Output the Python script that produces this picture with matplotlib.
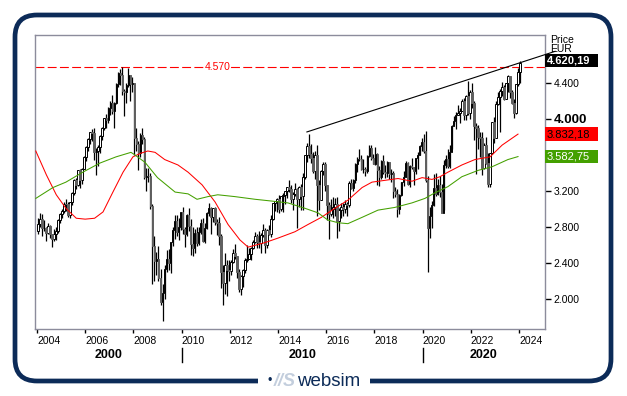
import numpy as np
import matplotlib
matplotlib.use("Agg")
import matplotlib.pyplot as plt
from matplotlib.patches import FancyBboxPatch, Rectangle

plt.rcParams['font.family'] = ['Liberation Sans', 'DejaVu Sans']

# monthly candles, Jan 2004 .. Jan 2024 (index level in thousands)
first_open = 2.760
closes = [
    2.839, 2.893, 2.787, 2.788, 2.737, 2.811, 2.720, 2.671, 2.726, 2.757, 2.876, 2.951,  # 2004
    2.984, 3.058, 3.056, 2.931, 3.076, 3.182, 3.327, 3.264, 3.429, 3.320, 3.447, 3.579,  # 2005
    3.692, 3.775, 3.853, 3.839, 3.637, 3.649, 3.692, 3.809, 3.899, 4.005, 3.987, 4.120,  # 2006
    4.179, 4.087, 4.181, 4.392, 4.512, 4.489, 4.315, 4.294, 4.381, 4.490, 4.388, 4.400,  # 2007
    3.792, 3.725, 3.628, 3.826, 3.777, 3.353, 3.367, 3.365, 3.038, 2.591, 2.430, 2.451,  # 2008
    2.237, 1.977, 2.071, 2.336, 2.451, 2.401, 2.638, 2.775, 2.873, 2.744, 2.800, 2.966,  # 2009
    2.776, 2.728, 2.931, 2.817, 2.610, 2.573, 2.742, 2.623, 2.748, 2.844, 2.651, 2.793,  # 2010
    2.954, 3.013, 2.911, 3.011, 2.862, 2.849, 2.705, 2.302, 2.180, 2.385, 2.330, 2.317,  # 2011
    2.416, 2.512, 2.477, 2.306, 2.118, 2.265, 2.325, 2.441, 2.454, 2.503, 2.575, 2.636,  # 2012
    2.703, 2.633, 2.625, 2.712, 2.770, 2.603, 2.768, 2.721, 2.893, 3.068, 3.086, 3.109,  # 2013
    2.998, 3.149, 3.162, 3.198, 3.245, 3.229, 3.116, 3.173, 3.226, 3.113, 3.251, 3.146,  # 2014
    3.352, 3.600, 3.697, 3.615, 3.570, 3.424, 3.601, 3.270, 3.101, 3.418, 3.506, 3.268,  # 2015
    3.045, 2.946, 3.005, 3.028, 3.063, 2.865, 2.991, 3.023, 3.003, 3.055, 3.052, 3.291,  # 2016
    3.231, 3.320, 3.501, 3.560, 3.555, 3.442, 3.450, 3.422, 3.595, 3.674, 3.570, 3.504,  # 2017
    3.609, 3.439, 3.362, 3.536, 3.407, 3.396, 3.525, 3.393, 3.399, 3.198, 3.173, 3.001,  # 2018
    3.159, 3.298, 3.352, 3.515, 3.280, 3.474, 3.467, 3.427, 3.569, 3.604, 3.704, 3.745,  # 2019
    3.641, 3.329, 2.787, 2.928, 3.050, 3.234, 3.174, 3.273, 3.194, 2.958, 3.493, 3.553,  # 2020
    3.481, 3.636, 3.919, 3.975, 4.039, 4.064, 4.089, 4.196, 4.048, 4.251, 4.064, 4.298,  # 2021
    4.175, 3.924, 3.903, 3.803, 3.789, 3.455, 3.708, 3.517, 3.279, 3.618, 3.965, 3.794,  # 2022
    4.163, 4.238, 4.315, 4.359, 4.218, 4.399, 4.471, 4.297, 4.175, 4.061, 4.382, 4.521,  # 2023
    4.62019,                                                                               # 2024
]
highs = [
    2.905, 2.960, 2.950, 2.880, 2.800, 2.850, 2.830, 2.730, 2.780, 2.800, 2.890, 2.955,
    3.000, 3.080, 3.115, 3.080, 3.080, 3.190, 3.330, 3.350, 3.430, 3.440, 3.460, 3.590,
    3.700, 3.790, 3.860, 3.890, 3.897, 3.680, 3.710, 3.820, 3.910, 4.010, 4.050, 4.130,
    4.200, 4.270, 4.190, 4.400, 4.520, 4.550, 4.572, 4.330, 4.400, 4.560, 4.490, 4.470,
    4.400, 3.900, 3.760, 3.840, 3.900, 3.800, 3.460, 3.460, 3.400, 3.060, 2.700, 2.530,
    2.590, 2.340, 2.170, 2.380, 2.550, 2.560, 2.640, 2.800, 2.940, 2.940, 2.900, 2.970,
    3.020, 2.800, 2.950, 3.010, 2.890, 2.800, 2.780, 2.800, 2.800, 2.890, 2.900, 2.850,
    2.970, 3.070, 3.030, 3.010, 3.020, 2.890, 2.910, 2.730, 2.380, 2.520, 2.440, 2.440,
    2.440, 2.560, 2.610, 2.480, 2.340, 2.270, 2.340, 2.460, 2.600, 2.570, 2.580, 2.660,
    2.750, 2.720, 2.760, 2.740, 2.840, 2.790, 2.780, 2.830, 2.940, 3.070, 3.090, 3.120,
    3.160, 3.150, 3.180, 3.200, 3.250, 3.320, 3.270, 3.190, 3.290, 3.240, 3.260, 3.280,
    3.400, 3.600, 3.730, 3.836, 3.720, 3.630, 3.650, 3.710, 3.320, 3.430, 3.520, 3.520,
    3.270, 3.080, 3.110, 3.130, 3.120, 3.130, 3.010, 3.070, 3.070, 3.100, 3.080, 3.310,
    3.330, 3.330, 3.510, 3.580, 3.667, 3.600, 3.560, 3.470, 3.600, 3.710, 3.710, 3.610,
    3.690, 3.620, 3.480, 3.550, 3.600, 3.490, 3.530, 3.520, 3.450, 3.420, 3.250, 3.220,
    3.170, 3.300, 3.420, 3.530, 3.520, 3.490, 3.570, 3.470, 3.570, 3.630, 3.710, 3.790,
    3.830, 3.870, 3.370, 3.020, 3.090, 3.390, 3.400, 3.340, 3.370, 3.280, 3.540, 3.600,
    3.670, 3.710, 3.930, 4.030, 4.080, 4.160, 4.120, 4.220, 4.230, 4.260, 4.415, 4.320,
    4.400, 4.200, 3.950, 3.930, 3.850, 3.850, 3.730, 3.800, 3.620, 3.620, 3.970, 4.020,
    4.200, 4.300, 4.330, 4.410, 4.380, 4.400, 4.490, 4.470, 4.320, 4.220, 4.390, 4.560,
    4.640,
]
lows = [
    2.730, 2.800, 2.700, 2.760, 2.650, 2.720, 2.680, 2.580, 2.650, 2.660, 2.740, 2.850,
    2.900, 2.960, 2.980, 2.910, 2.900, 3.050, 3.160, 3.220, 3.260, 3.230, 3.280, 3.440,
    3.530, 3.650, 3.720, 3.760, 3.550, 3.380, 3.480, 3.620, 3.770, 3.880, 3.900, 3.960,
    4.040, 4.050, 3.900, 4.170, 4.350, 4.380, 4.270, 4.030, 4.180, 4.350, 4.200, 4.300,
    3.600, 3.650, 3.430, 3.580, 3.720, 3.330, 3.200, 3.300, 3.000, 2.170, 2.210, 2.270,
    2.210, 1.940, 1.765, 2.010, 2.300, 2.330, 2.290, 2.590, 2.670, 2.700, 2.660, 2.770,
    2.730, 2.580, 2.700, 2.760, 2.490, 2.480, 2.510, 2.590, 2.600, 2.720, 2.640, 2.630,
    2.780, 2.920, 2.720, 2.860, 2.830, 2.710, 2.600, 2.130, 1.935, 2.060, 2.040, 2.200,
    2.270, 2.400, 2.450, 2.240, 2.080, 2.050, 2.140, 2.290, 2.410, 2.450, 2.440, 2.560,
    2.630, 2.570, 2.570, 2.510, 2.690, 2.510, 2.570, 2.710, 2.690, 2.880, 2.980, 2.970,
    2.960, 2.980, 2.970, 3.060, 3.120, 3.190, 3.070, 2.990, 3.150, 2.790, 3.030, 2.990,
    2.990, 3.330, 3.520, 3.570, 3.510, 3.400, 3.330, 2.920, 2.990, 3.100, 3.380, 3.200,
    2.880, 2.672, 2.930, 2.900, 2.920, 2.680, 2.760, 2.900, 2.930, 2.960, 2.920, 3.030,
    3.220, 3.200, 3.290, 3.410, 3.530, 3.430, 3.400, 3.370, 3.400, 3.580, 3.550, 3.500,
    3.490, 3.270, 3.260, 3.330, 3.390, 3.350, 3.360, 3.340, 3.300, 3.120, 3.140, 2.910,
    2.950, 3.150, 3.260, 3.360, 3.270, 3.250, 3.450, 3.270, 3.390, 3.450, 3.600, 3.650,
    3.620, 3.300, 2.303, 2.680, 2.790, 3.040, 3.150, 3.160, 3.130, 2.960, 2.990, 3.460,
    3.460, 3.460, 3.670, 3.940, 3.890, 4.040, 3.960, 4.090, 3.990, 3.990, 4.040, 4.000,
    4.120, 3.770, 3.390, 3.670, 3.580, 3.380, 3.450, 3.500, 3.250, 3.250, 3.610, 3.730,
    3.800, 4.150, 3.860, 4.250, 4.210, 4.230, 4.300, 4.230, 4.170, 4.010, 4.050, 4.370,
    4.400,
]

# moving averages (year, value)
red_x = [2003.95, 2004.39, 2004.8, 2005.2, 2005.63, 2006.0, 2006.39, 2006.74, 2007.15, 2007.57,
         2007.98, 2008.3, 2008.6, 2008.9, 2009.3, 2009.85, 2010.27, 2010.85, 2011.39, 2011.93,
         2012.42, 2012.76, 2013.46, 2014.0, 2014.7, 2015.24, 2015.8, 2016.36, 2016.9, 2017.49,
         2017.9, 2018.44, 2018.98, 2019.56, 2019.98, 2020.39, 2020.72, 2021.05, 2021.63, 2022.17,
         2022.8, 2023.3, 2023.96]
red_y = [3.645, 3.38, 3.16, 3.01, 2.90, 2.89, 2.90, 2.97, 3.19, 3.41,
         3.58, 3.62, 3.645, 3.63, 3.55, 3.49, 3.41, 3.27, 3.08, 2.83,
         2.66, 2.58, 2.63, 2.68, 2.75, 2.83, 2.91, 3.01, 3.10, 3.24,
         3.30, 3.32, 3.34, 3.31, 3.35, 3.33, 3.36, 3.41, 3.49, 3.55,
         3.58, 3.71, 3.832]
green_x = [2003.95, 2004.66, 2005.2, 2005.9, 2006.6, 2007.28, 2007.9, 2008.07, 2008.48, 2009.0,
           2009.73, 2010.27, 2010.64, 2011.1, 2011.5, 2012.2, 2013.05, 2013.75, 2014.41, 2015.12,
           2015.66, 2016.07, 2016.5, 2016.9, 2017.49, 2018.15, 2018.85, 2019.56, 2020.1, 2020.5,
           2021.05, 2021.63, 2022.3, 2022.88, 2023.54, 2023.96]
green_y = [3.12, 3.24, 3.30, 3.41, 3.51, 3.58, 3.63, 3.60, 3.52, 3.35,
           3.19, 3.17, 3.11, 3.14, 3.16, 3.14, 3.11, 3.09, 3.07, 3.01,
           2.96, 2.88, 2.85, 2.84, 2.91, 2.99, 3.02, 3.07, 3.12, 3.18,
           3.25, 3.36, 3.43, 3.47, 3.55, 3.583]

trend_x = [2015.2, 2025.5]
trend_y = [3.856, 4.749]
resistance = 4.570

last_price = "4.620,19"
red_label = "3.832,18"
green_label = "3.582,75"

ytick_vals = [2.0, 2.4, 2.8, 3.2, 4.0, 4.4]
ytick_text = ["2.000", "2.400", "2.800", "3.200", "4.000", "4.400"]
xtick_years = list(range(2004, 2025, 2))
decades = [("2000", 2006.96), ("2010", 2015.0), ("2020", 2022.54)]
decade_marks = [2010, 2020]

NAVY = "#0c2b58"
RED = "#ff0000"
GREEN = "#44a000"

fig = plt.figure(figsize=(6.27, 3.96), dpi=100)

# outer frame (pixel coordinates)
bg = fig.add_axes([0, 0, 1, 1])
bg.set_xlim(0, 627)
bg.set_ylim(396, 0)
bg.axis("off")
bg.add_patch(FancyBboxPatch((15, 15), 596, 366, boxstyle="round,pad=0,rounding_size=22",
                            fill=False, edgecolor=NAVY, linewidth=3.4))
bg.add_patch(Rectangle((258, 372), 112, 20, facecolor="white", edgecolor="none", zorder=3))
bg.text(268, 381, "\u2022", color=NAVY, fontsize=9, va="center", ha="left", zorder=4)
bg.text(274, 382, "//S", color="#c3cedd", fontsize=13, fontstyle="italic", fontweight="bold",
        va="center", ha="left", zorder=4)
bg.text(297, 382, "websim", color=NAVY, fontsize=13.5, va="center", ha="left", zorder=4)

ax = fig.add_axes([35 / 627, 1 - 329 / 396, 510 / 627, 294 / 396])
ax.set_xlim(2003.917, 2025.08)
ax.set_ylim(1.673, 4.93)

# candles
closes = np.array(closes)
highs = np.array(highs)
lows = np.array(lows)
opens = np.concatenate([[first_open], closes[:-1]])
xs = 2004 + (np.arange(len(closes)) + 0.5) / 12
up = closes >= opens

ax.vlines(xs, lows, highs, color="black", linewidth=0.9, zorder=3)
ax.bar(xs[up], (closes - opens)[up], bottom=opens[up], width=0.065,
       facecolor="white", edgecolor="black", linewidth=0.7, zorder=4)
ax.bar(xs[~up], (closes - opens)[~up], bottom=opens[~up], width=0.065,
       facecolor="#606060", edgecolor="#606060", linewidth=0.7, zorder=4)

ax.plot(red_x, red_y, color=RED, linewidth=0.75, zorder=5)
ax.plot(green_x, green_y, color=GREEN, linewidth=0.75, zorder=5)
ax.plot(trend_x, trend_y, color="black", linewidth=0.8, zorder=6, clip_on=False)

ax.axhline(resistance, color=RED, linewidth=0.8, linestyle=(0, (8, 3)), zorder=2)
ax.text(2010.95, resistance, "4.570", color=RED, fontsize=7.5, ha="left", va="center",
        bbox=dict(facecolor="white", edgecolor="none", pad=0.5), zorder=3)

# axes styling
for sp in ax.spines.values():
    sp.set_color("#8c8c9c")
    sp.set_linewidth(1)

ax.yaxis.tick_right()
ax.set_yticks(ytick_vals)
ax.set_yticklabels(ytick_text)
ax.tick_params(axis="y", direction="out", length=4, width=1, pad=2, labelsize=7.5, colors="black")
for lbl in ax.get_yticklabels():
    if lbl.get_text() == "4.000":
        lbl.set_fontweight("bold")
        lbl.set_fontsize(9.5)

ax.set_xticks(xtick_years)
ax.set_xticklabels([str(y) for y in xtick_years])
ax.tick_params(axis="x", direction="out", length=3, width=1, pad=2, labelsize=7.5, colors="black")
for lbl in ax.get_xticklabels():
    lbl.set_horizontalalignment("left")

xt = ax.get_xaxis_transform()
for name, xpos in decades:
    ax.text(xpos, -0.09, name, transform=xt, ha="center", va="center",
            fontsize=9, fontweight="bold")
for xm in decade_marks:
    ax.plot([xm, xm], [-0.065, -0.112], transform=xt, color="black", linewidth=1, clip_on=False)

# right side value labels
yt = ax.get_yaxis_transform()
ax.text(1.01, 4.878, "Price", transform=yt, fontsize=7.5, ha="left", va="center", clip_on=False)
ax.text(1.01, 4.77, "EUR", transform=yt, fontsize=7.5, ha="left", va="center", clip_on=False)


def value_box(y, text, face, color, weight="normal"):
    h = 13.5 / 90.25
    ax.add_patch(Rectangle((1.0, y - h / 2), 0.104, h, transform=yt, facecolor=face,
                           edgecolor="none", clip_on=False, zorder=10))
    ax.text(1.003, y, text, transform=yt, fontsize=8, color=color, fontweight=weight,
            ha="left", va="center", clip_on=False, zorder=11)


value_box(4.645, last_price, "black", "white", weight="bold")
value_box(red_y[-1], red_label, RED, "black")
value_box(green_y[-1], green_label, GREEN, "white")

fig.savefig("out.png", dpi=100)
